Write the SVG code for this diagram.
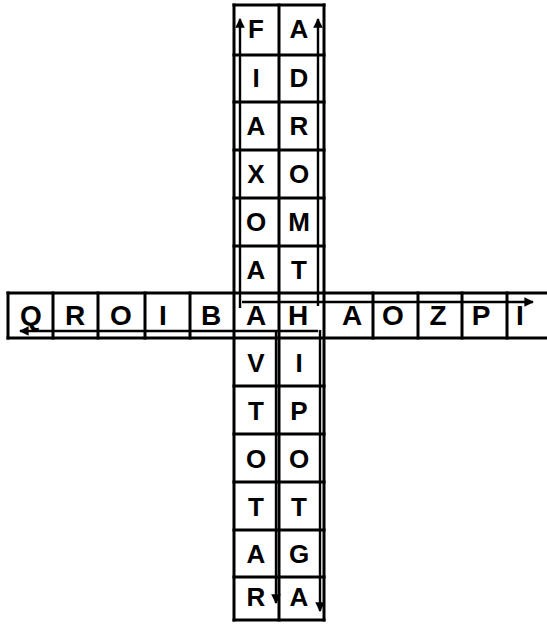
<svg xmlns="http://www.w3.org/2000/svg" width="547" height="625" viewBox="0 0 547 625">
<style>
.g{stroke:#000;stroke-width:3;fill:none;stroke-linecap:square}
.a{stroke:#000;stroke-width:2.4;fill:none}
.t{font-family:"Liberation Sans","DejaVu Sans",sans-serif;font-weight:bold;font-size:26px;fill:#000;text-anchor:middle}
.r{font-size:28px}
</style>
<defs>
<marker id="ah" viewBox="0 0 10 10" refX="9" refY="5" markerWidth="4.5" markerHeight="4" orient="auto" markerUnits="strokeWidth">
<path d="M0,0 L10,5 L0,10 Z" fill="#000"/>
</marker>
</defs>
<rect width="547" height="625" fill="#fff"/>
<g id="grid" class="g">
<path d="M234,5 V620 M279,5 V620 M324,5 V620"/>
<path d="M234,5 H324 M234,55 H324 M234,102 H324 M234,150 H324 M234,198 H324 M234,246 H324"/>
<path d="M234,386 H324 M234,434 H324 M234,482 H324 M234,530 H324 M234,577 H324 M234,620 H324"/>
<path d="M8,293 H547 M8,338 H547"/>
<path d="M8,293 V338 M53,293 V338 M98,293 V338 M145,293 V338 M190,293 V338 M373,293 V338 M418,293 V338 M462,293 V338 M507,293 V338"/>
</g>
<g id="connectors" class="a">
<path d="M240,308 V19" marker-end="url(#ah)"/>
<path d="M318,306 V19" marker-end="url(#ah)"/>
<path d="M242,302 H533" marker-end="url(#ah)"/>
<path d="M276,330 V603" marker-end="url(#ah)"/>
<path d="M320,330 V611" marker-end="url(#ah)"/>
<path d="M318,331 H20" marker-end="url(#ah)"/>
</g>
<g id="column-top" class="t">
<text x="256" y="38">F</text><text x="299" y="38">A</text>
<text x="256" y="87">I</text><text x="299" y="87">D</text>
<text x="256" y="135">A</text><text x="299" y="135">R</text>
<text x="256" y="183">X</text><text x="299" y="183">O</text>
<text x="256" y="231">O</text><text x="299" y="231">M</text>
<text x="256" y="279">A</text><text x="299" y="279">T</text>
</g>
<g id="row" class="t r">
<text x="31" y="325">Q</text>
<text x="75" y="325">R</text>
<text x="121" y="325">O</text>
<text x="163" y="325">I</text>
<text x="211" y="325">B</text>
<text x="256" y="325">A</text>
<text x="298" y="325">H</text>
<text x="352" y="325">A</text>
<text x="393" y="325">O</text>
<text x="438" y="325">Z</text>
<text x="481" y="325">P</text>
<text x="520" y="325">I</text>
</g>
<g id="column-bottom" class="t">
<text x="256" y="372">V</text><text x="299" y="372">I</text>
<text x="256" y="420">T</text><text x="299" y="420">P</text>
<text x="256" y="468">O</text><text x="299" y="468">O</text>
<text x="256" y="516">T</text><text x="299" y="516">T</text>
<text x="256" y="563">A</text><text x="299" y="563">G</text>
<text x="256" y="606">R</text><text x="299" y="606">A</text>
</g>
</svg>
